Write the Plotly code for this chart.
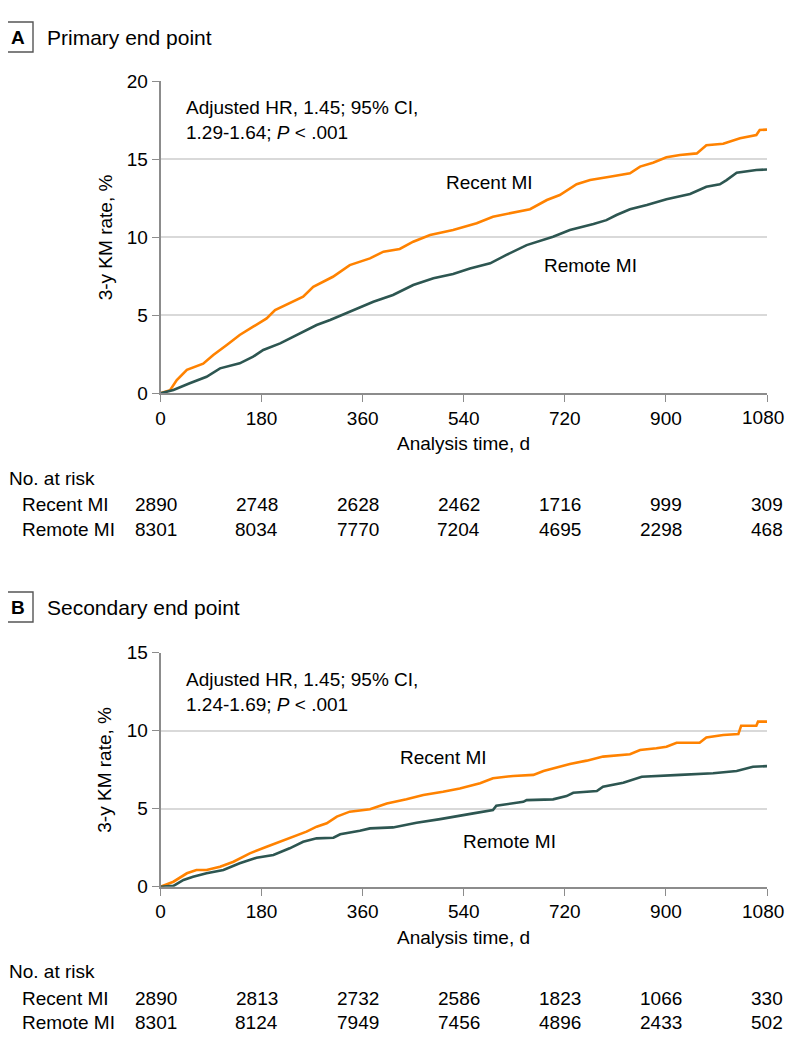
import plotly.graph_objects as go

# page body has an 8 px margin, so the figure is drawn 8 px in from the corner
OFF = 8
W, H = 794 - 2 * OFF, 1056 - 2 * OFF

# Panel A - primary end point (3-y KM rate, %)
a_recent_days = [0, 17, 29, 47, 76, 94, 118, 141, 165, 189, 204, 230, 254, 272, 307, 337, 373, 397, 426,
                 450, 480, 521, 551, 563, 592, 622, 658, 688, 711, 741, 765, 800, 836, 854, 877, 901,
                 925, 955, 972, 1002, 1032, 1061, 1067, 1080]
a_recent_rate = [0, 0.2, 0.85, 1.5, 1.9, 2.45, 3.1, 3.74, 4.27, 4.8, 5.34, 5.77, 6.2, 6.83, 7.47, 8.22,
                 8.65, 9.08, 9.25, 9.72, 10.15, 10.47, 10.79, 10.9, 11.32, 11.54, 11.8, 12.39, 12.71,
                 13.4, 13.67, 13.88, 14.1, 14.53, 14.78, 15.13, 15.28, 15.38, 15.9, 16.0, 16.35,
                 16.56, 16.88, 16.9]
a_remote_days = [0, 23, 52, 82, 106, 141, 165, 183, 213, 242, 278, 302, 337, 379, 414, 450, 486, 521,
                 551, 587, 616, 652, 699, 729, 771, 794, 812, 836, 866, 901, 943, 972, 996, 1008,
                 1026, 1061, 1080]
a_remote_rate = [0, 0.21, 0.64, 1.06, 1.6, 1.92, 2.35, 2.78, 3.2, 3.74, 4.38, 4.7, 5.23, 5.87, 6.3,
                 6.94, 7.37, 7.65, 8.0, 8.33, 8.87, 9.5, 10.04, 10.47, 10.85, 11.1, 11.43, 11.8,
                 12.07, 12.44, 12.78, 13.24, 13.4, 13.67, 14.14, 14.31, 14.35]

# Panel B - secondary end point
b_recent_days = [0, 23, 47, 64, 82, 106, 130, 159, 189, 213, 236, 260, 278, 296, 314, 337, 373, 403,
                 438, 468, 503, 533, 569, 592, 628, 664, 682, 705, 729, 759, 788, 836, 854, 883, 901,
                 919, 960, 972, 1002, 1029, 1034, 1061, 1064, 1080]
b_recent_rate = [0, 0.32, 0.86, 1.07, 1.07, 1.28, 1.6, 2.14, 2.56, 2.88, 3.21, 3.53, 3.85, 4.06, 4.49,
                 4.81, 4.96, 5.34, 5.6, 5.88, 6.09, 6.3, 6.63, 6.95, 7.1, 7.17, 7.42, 7.63, 7.87, 8.08,
                 8.34, 8.49, 8.76, 8.87, 8.97, 9.23, 9.23, 9.57, 9.72, 9.78, 10.32, 10.32, 10.58, 10.58]
b_remote_days = [0, 23, 41, 58, 82, 112, 141, 171, 201, 230, 254, 278, 308, 320, 355, 373, 414, 456,
                 498, 527, 557, 592, 598, 646, 652, 699, 723, 735, 777, 788, 824, 857, 889, 925, 984,
                 1026, 1055, 1080]
b_remote_rate = [0, 0.05, 0.43, 0.64, 0.86, 1.07, 1.5, 1.86, 2.03, 2.46, 2.88, 3.1, 3.14, 3.36, 3.59,
                 3.74, 3.8, 4.1, 4.33, 4.49, 4.7, 4.91, 5.19, 5.44, 5.55, 5.6, 5.81, 6.02, 6.13, 6.41,
                 6.67, 7.05, 7.12, 7.17, 7.27, 7.42, 7.69, 7.73]

tick_days = [0, 180, 360, 540, 720, 900, 1080]
tick_text = ['0', '180', '360', '540', '720', '900', '1080']
a_risk_recent = [2890, 2748, 2628, 2462, 1716, 999, 309]
a_risk_remote = [8301, 8034, 7770, 7204, 4695, 2298, 468]
b_risk_recent = [2890, 2813, 2732, 2586, 1823, 1066, 330]
b_risk_remote = [8301, 8124, 7949, 7456, 4896, 2433, 502]

ORANGE = '#FF8200'
TEAL = '#2D5651'
AXIS = '#8c8c8c'
GRID = '#d9d9d9'
FONT = 'Liberation Sans'
FS = 19


def px(x):
    return (x - OFF) / W


def py(y):
    return 1 - (y - OFF) / H


def note(text, x, y, xref='paper', yref='paper', xanchor='center', yanchor='middle', size=FS, **kw):
    return dict(text=text, x=x, y=y, xref=xref, yref=yref, xanchor=xanchor, yanchor=yanchor,
                showarrow=False, font=dict(family=FONT, size=size, color='black'), **kw)


fig = go.Figure()

fig.add_trace(go.Scatter(x=a_recent_days, y=a_recent_rate, mode='lines',
                         line=dict(color=ORANGE, width=2.6), xaxis='x', yaxis='y'))
fig.add_trace(go.Scatter(x=a_remote_days, y=a_remote_rate, mode='lines',
                         line=dict(color=TEAL, width=2.6), xaxis='x', yaxis='y'))
fig.add_trace(go.Scatter(x=b_recent_days, y=b_recent_rate, mode='lines',
                         line=dict(color=ORANGE, width=2.6), xaxis='x2', yaxis='y2'))
fig.add_trace(go.Scatter(x=b_remote_days, y=b_remote_rate, mode='lines',
                         line=dict(color=TEAL, width=2.6), xaxis='x2', yaxis='y2'))

x0, x1 = 160.5, 767
panels = [
    # (suffix, top px, bottom px, ymax, title, letter, box top, hr text, risk recent, risk remote, labels)
    ('', 81.3, 393.3, 20, 'Primary end point', 'A', 22,
     'Adjusted HR, 1.45; 95% CI,<br>1.29-1.64; <i>P</i> < .001',
     a_risk_recent, a_risk_remote, (586, 13.5, 765, 8.2)),
    ('2', 652.7, 886.7, 15, 'Secondary end point', 'B', 592,
     'Adjusted HR, 1.45; 95% CI,<br>1.24-1.69; <i>P</i> < .001',
     b_risk_recent, b_risk_remote, (504, 8.3, 622, 2.9)),
]

axis_common = dict(showline=True, linecolor=AXIS, linewidth=1.6, ticks='outside', ticklen=7,
                   tickcolor=AXIS, tickwidth=1.4, tickfont=dict(family=FONT, size=FS, color='black'),
                   zeroline=False, fixedrange=True, automargin=False)

annotations = []
shapes = []
for suf, top, bot, ymax, title, letter, boxtop, hrtext, rrec, rrem, lab in panels:
    xa = 'x' + suf
    ya = 'y' + suf
    fig.update_layout({
        # last tick label sits at the page edge, so it is drawn as a right-anchored note below
        'xaxis' + suf: dict(axis_common, domain=[px(x0), px(x1)], range=[0, 1080],
                            tickvals=tick_days, ticktext=tick_text[:-1] + [''],
                            showgrid=False, anchor=ya),
        'yaxis' + suf: dict(axis_common, domain=[py(bot), py(top)], range=[0, ymax],
                            dtick=5, showgrid=True, gridcolor=GRID, gridwidth=1.5, anchor=xa),
    })
    annotations.append(note(tick_text[-1], tick_days[-1], py(bot + 24.7), xref=xa,
                            xanchor='right', xshift=19))
    # panel heading
    shapes.append(dict(type='rect', xref='paper', yref='paper', x0=px(3), x1=px(33),
                       y0=py(boxtop), y1=py(boxtop + 30), line=dict(color='#555555', width=1.4)))
    annotations.append(note('<b>%s</b>' % letter, px(18), py(boxtop + 15)))
    annotations.append(note(title, px(45), py(boxtop + 15), xanchor='left', size=21))
    # HR text
    annotations.append(note(hrtext, px(184), py(top + 14), xanchor='left', yanchor='top',
                            align='left'))
    # curve labels
    annotations.append(note('Recent MI', lab[0], lab[1], xref=xa, yref=ya))
    annotations.append(note('Remote MI', lab[2], lab[3], xref=xa, yref=ya))
    # axis titles
    annotations.append(note('Analysis time, d', px((x0 + x1) / 2), py(bot + 50.5)))
    annotations.append(note('3-y KM rate, %', px(105), py((top + bot) / 2), textangle=-90))
    # number at risk table
    annotations.append(note('No. at risk', px(7), py(bot + 85), xanchor='left'))
    for name, vals, dy in [('Recent MI', rrec, 111.5), ('Remote MI', rrem, 136)]:
        annotations.append(note(name, px(20), py(bot + dy), xanchor='left'))
        for d, v in zip(tick_days, vals):
            annotations.append(note(str(v), d, py(bot + dy), xref=xa, xanchor='right', xshift=18))

fig.update_layout(
    width=W, height=H,
    margin=dict(l=0, r=0, t=0, b=0, pad=0, autoexpand=False),
    showlegend=False,
    plot_bgcolor='white',
    paper_bgcolor='white',
    font=dict(family=FONT, size=FS, color='black'),
    annotations=annotations,
    shapes=shapes,
)

fig.write_html("out.html")
